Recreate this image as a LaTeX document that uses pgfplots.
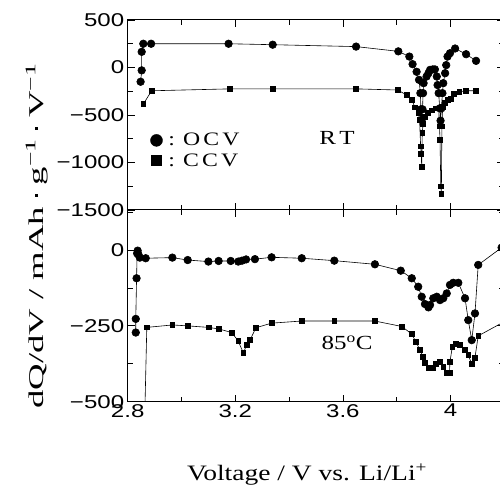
\documentclass[border=0pt]{standalone}
\usepackage{pgfplots}
\pgfplotsset{compat=1.18}
\usepackage{fontspec}
\setmainfont[FakeStretch=1.25]{Liberation Serif}
\newfontfamily\tickfont[FakeStretch=1.3]{Liberation Sans}
\newfontfamily\ylabfont[FakeStretch=1.75]{Liberation Serif}

\begin{document}
\begin{tikzpicture}[x=1pt,y=1pt]
\pgfplotsset{
  panel/.style={
    scale only axis, width=376.6pt,
    xmin=2.8, xmax=4.2,
    xtick={2.8,3.2,3.6,4.0}, minor xtick={3.0,3.4,3.8,4.2},
    tick align=inside,
    major tick length=7pt, minor tick length=5pt,
    every tick/.style={black, line width=0.8pt},
    axis line style={line width=1pt},
    ticklabel style={font=\tickfont\fontsize{18.5}{18.5}\selectfont},
    xticklabel style={yshift=1pt},
    clip=true,
  },
  ocv/.style={black, line width=0.6pt, mark=*, mark size=3.8pt, mark options={fill=black}},
  ccv/.style={black, line width=0.6pt, mark=square*, mark size=2.4pt, mark options={fill=black}},
}
% ---------- top panel (RT)
\begin{axis}[panel, at={(127.7pt,-210pt)}, anchor=south west, height=190pt,
  ymin=-1500, ymax=500,
  ytick={-1500,-1000,-500,0,500},
  yticklabels={−1500,−1000,−500,0,500},
  minor ytick={-1250,-750,-250,250},
  xticklabels={},
  legend style={draw=none, fill=none, at={(0.06,0.415)}, anchor=north west,
    font=\fontsize{19}{19}\selectfont, row sep=2pt, inner sep=0pt},
  legend cell align=left,
]
\addlegendimage{only marks, mark=*, mark size=6pt, black}
\addlegendentry{\hspace{4pt}: O\,C\,V}
\addlegendimage{only marks, mark=square*, mark size=5pt, black}
\addlegendentry{\hspace{4pt}: C\,C\,V}
\addplot[ocv, forget plot] coordinates {
(2.848,-150) (2.852,-30) (2.852,165) (2.858,250) (2.887,250) (3.175,250)
(3.339,240) (3.649,220) (3.806,170) (3.847,115) (3.859,35) (3.874,-45)
(3.883,-130) (3.888,-270) (3.890,-440) (3.893,-550) (3.896,-440) (3.898,-270)
(3.900,-165) (3.911,-95) (3.918,-60) (3.924,-25) (3.934,-20) (3.942,-20)
(3.949,-95) (3.952,-185) (3.956,-270) (3.960,-430) (3.963,-560) (3.966,-430)
(3.970,-270) (3.973,-165) (3.980,-60) (3.984,25) (3.989,115) (3.998,150)
(4.017,200) (4.058,140) (4.095,70)
};
\addplot[ccv, forget plot] coordinates {
(2.858,-385) (2.889,-245) (3.180,-225) (3.339,-225) (3.649,-225) (3.804,-237)
(3.837,-290) (3.856,-340) (3.868,-420) (3.880,-480) (3.885,-550) (3.889,-830)
(3.891,-910) (3.893,-1045) (3.895,-690) (3.898,-590) (3.903,-520) (3.915,-480)
(3.930,-450) (3.945,-430) (3.956,-430) (3.959,-620) (3.961,-760) (3.964,-1250)
(3.966,-1330) (3.968,-620) (3.971,-410) (3.980,-375) (3.990,-340) (4.000,-330)
(4.013,-280) (4.033,-255) (4.058,-245) (4.095,-245)
};
\end{axis}
% ---------- bottom panel (85 C)
\begin{axis}[panel, at={(127.7pt,-210pt)}, anchor=north west, height=191.7pt,
  ymin=-500, ymax=132,
  ytick={-500,-250,0},
  yticklabels={−500,−250,0},
  minor ytick={-375,-125,125},
  xticklabels={2.8,3.2,3.6,4},
]
\addplot[ocv] coordinates {
(2.830,-272) (2.830,-227) (2.833,-93) (2.835,-11) (2.837,-2) (2.840,-15)
(2.845,-25) (2.867,-27) (2.966,-25) (3.023,-33) (3.100,-38) (3.138,-36)
(3.183,-36) (3.211,-38) (3.225,-35) (3.240,-31) (3.273,-30) (3.335,-24)
(3.447,-27) (3.568,-35) (3.719,-47) (3.815,-68) (3.856,-93) (3.880,-121)
(3.893,-154) (3.905,-178) (3.918,-189) (3.924,-181) (3.936,-159) (3.949,-154)
(3.961,-165) (3.973,-159) (3.986,-143) (3.998,-115) (4.010,-108) (4.029,-108)
(4.054,-159) (4.066,-231) (4.079,-297) (4.091,-209) (4.103,-49) (4.19,8)
};
\addplot[ccv] coordinates {
(2.862,-600) (2.871,-255) (2.966,-247) (3.023,-250) (3.100,-255) (3.138,-260)
(3.187,-272) (3.211,-300) (3.230,-340) (3.242,-313) (3.255,-296) (3.277,-256)
(3.335,-241) (3.447,-234) (3.568,-234) (3.719,-234) (3.819,-252) (3.856,-277)
(3.871,-302) (3.887,-330) (3.897,-351) (3.905,-373) (3.918,-387) (3.934,-387)
(3.946,-376) (3.961,-368) (3.973,-384) (3.986,-406) (3.996,-406) (3.998,-368)
(4.007,-318) (4.020,-309) (4.035,-313) (4.054,-330) (4.066,-346) (4.079,-376)
(4.091,-354) (4.103,-283) (4.20,-236)
};
\end{axis}
% ---------- annotations
\node[font=\fontsize{20}{20}\selectfont] at (337pt,-138pt) {R\,T};
\node[font=\fontsize{20}{20}\selectfont] at (347pt,-343pt) {85\textsuperscript{o}C};
\node[anchor=base, font=\fontsize{22}{22}\selectfont] at (307pt,-480pt) {Voltage / V vs. Li/Li\textsuperscript{+}};
\node[rotate=90, anchor=base, font=\ylabfont\fontsize{21}{21}\selectfont] at (43pt,-236pt)
  {dQ/dV / mAh \raisebox{5pt}{\rule{3pt}{3pt}} g\textsuperscript{−1} \raisebox{5pt}{\rule{3pt}{3pt}} V\textsuperscript{−1}};
\pgfresetboundingbox
\useasboundingbox (0pt,0pt) rectangle (500pt,-486pt);
\end{tikzpicture}
\end{document}
